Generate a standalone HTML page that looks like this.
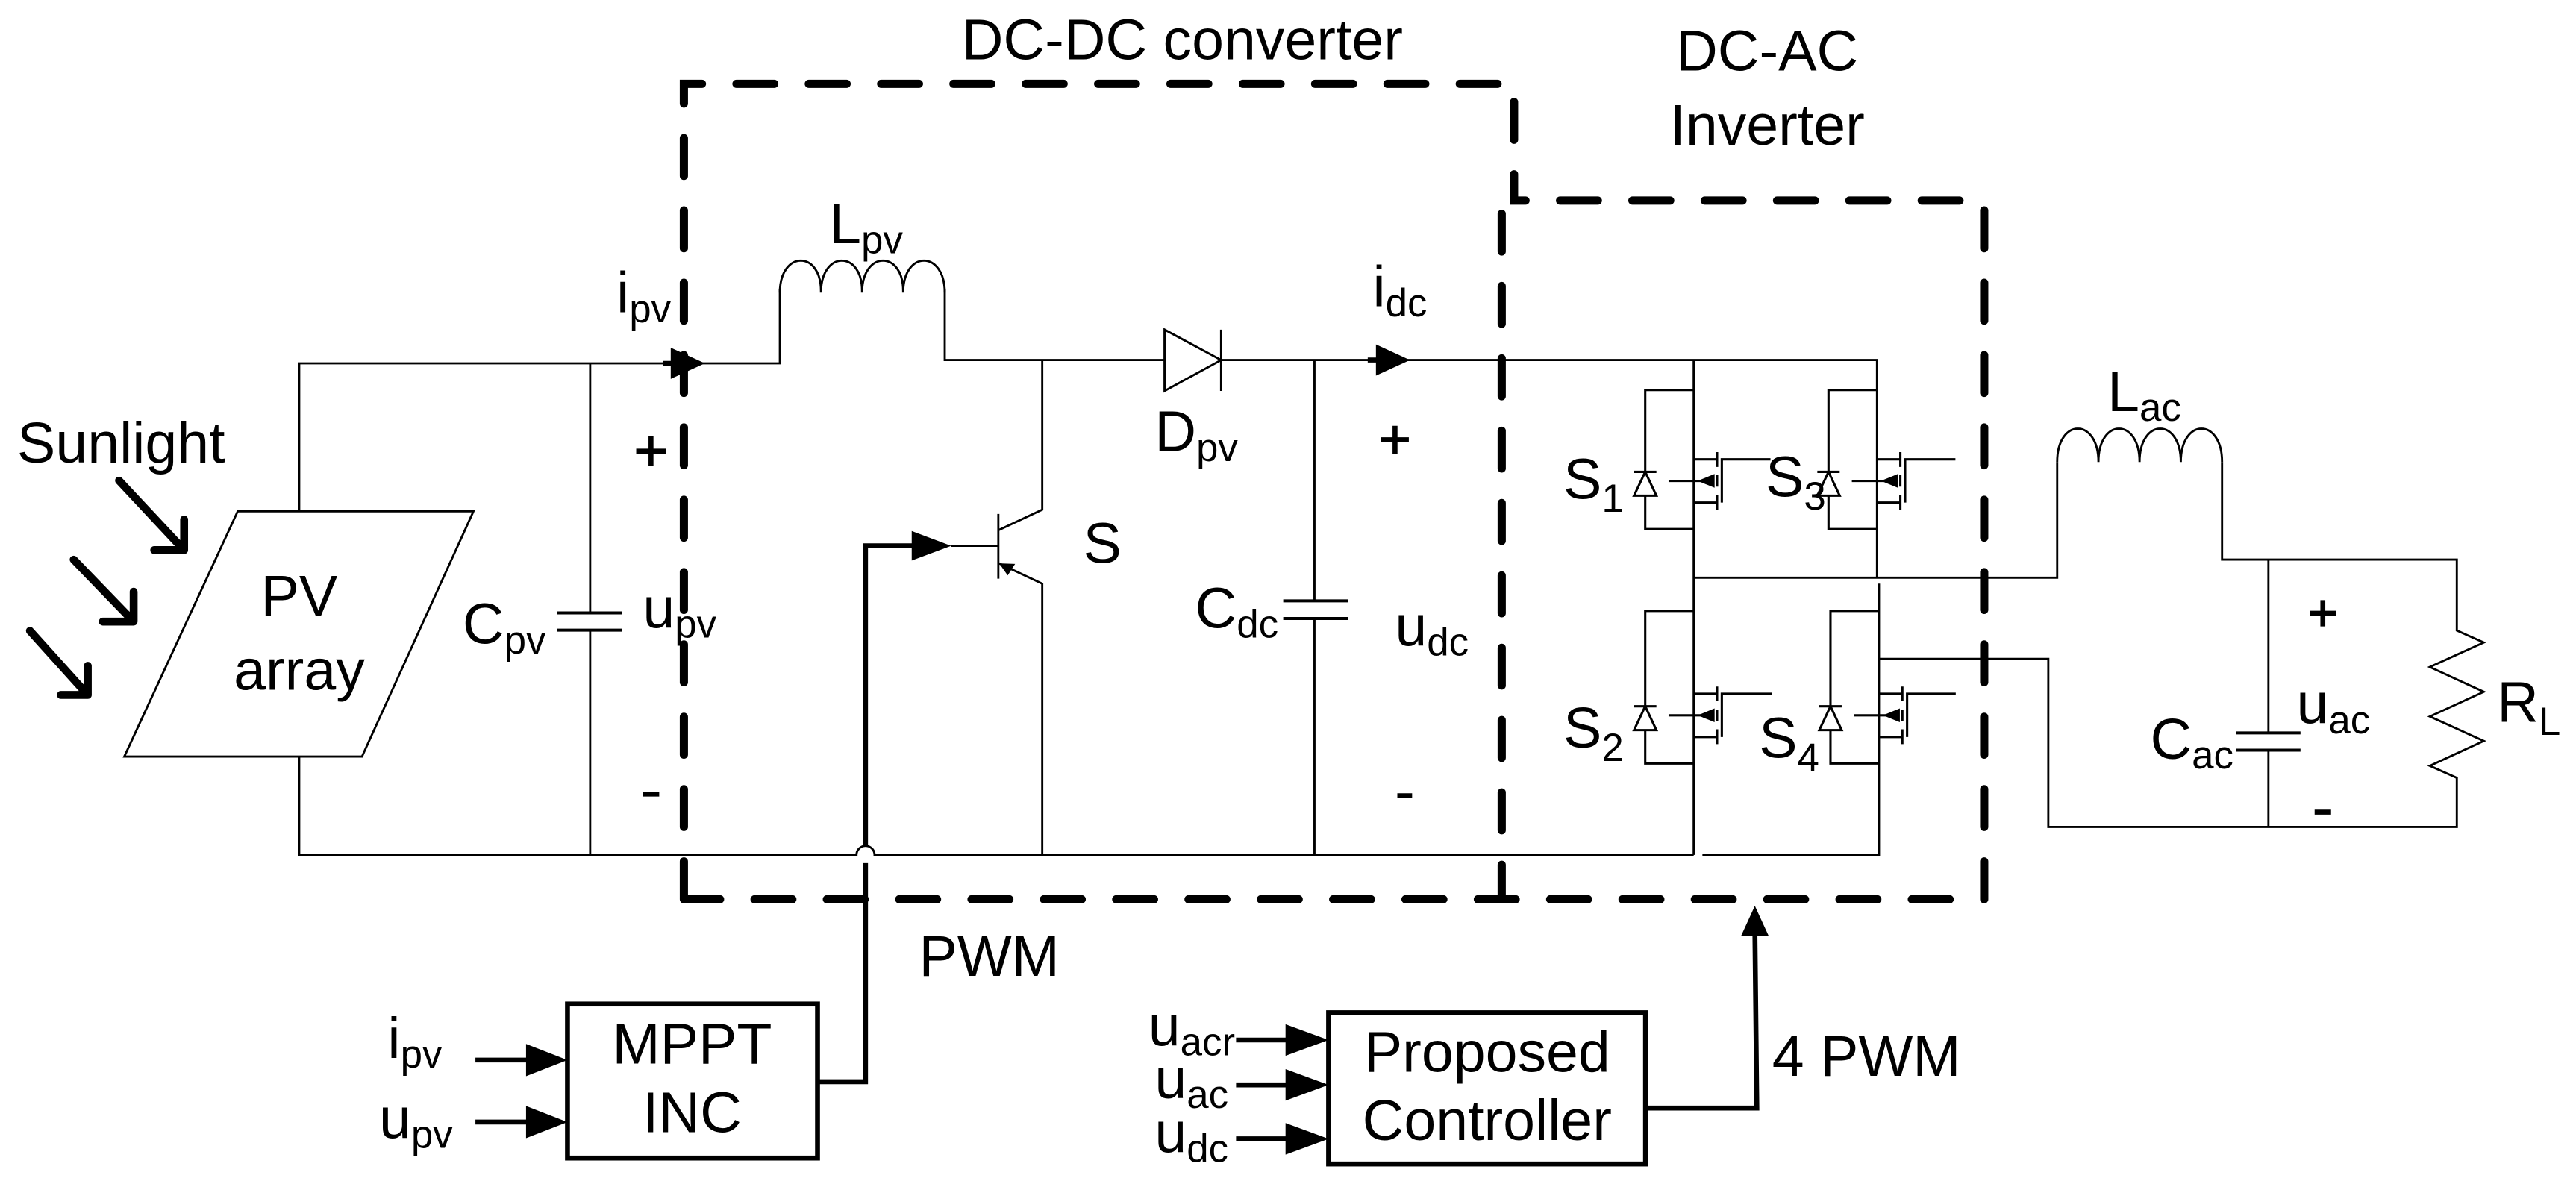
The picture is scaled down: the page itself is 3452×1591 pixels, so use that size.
<!DOCTYPE html>
<html><head><meta charset="utf-8"><style>
html,body{margin:0;padding:0;background:#fff;}
svg{display:block;}
text{font-family:"Liberation Sans",Arial,sans-serif;fill:#000;}
</style></head><body>
<svg xmlns="http://www.w3.org/2000/svg" width="3452" height="1591" viewBox="0 0 1567 722" preserveAspectRatio="none">
<rect width="1567" height="722" fill="#fff"/>

<g fill="none" stroke="#000" stroke-width="5" stroke-linecap="round" stroke-dasharray="23 21">
<path d="M416,547 V51 H921 V122 H1207 V547 H416"/>
<path d="M913.5,130 V547"/>
</g>

<g fill="none" stroke="#000" stroke-width="1.3">
<path d="M182,311 V221 H474.4 V176"/>
<path d="M574.7,176 V219 H708.4"/>
<path d="M742.8,219 H1141.8 V351.4"/>
<path d="M359,221 V372.8 M359,383.3 V520"/>
<path d="M182,460 V520 H521 A5.5,5.5 0 0 1 532,520 H1030.3"/>
<path d="M1035.6,520 H1143 V355"/>
<path d="M474.4,178 C474.4,152 500,152 499.4,178 C499.4,152 525,152 524.4,178 C524.4,152 550,152 549.4,178 C549.4,152 574.7,152 574.7,178"/>
<path d="M708.4,200.5 V237.8 L742.8,219 Z M742.8,200.5 V237.8"/>
<path d="M634,219 V310 L607.3,322.5 M607.3,312.6 V352 M578.6,332 H607.3 M607.3,342.5 L634,355 V520"/>
<path d="M799.6,219 V365.5 M799.6,376.2 V520"/>
<path d="M1030.3,219 V520"/>
<path d="M1030.3,351.4 H1251.4 V281"/>
<path d="M1143,400.8 H1246 V503 H1494.5 V473.1 L1478.1,465.8 L1510.9,450.7 L1478.1,435.8 L1510.9,420.8 L1478.1,405.7 L1510.9,390.8 L1494.5,383.5 V340.4 H1351.7 V281"/>
<path d="M1379.9,340.4 V445.8 M1379.9,456.3 V503"/>
<path d="M1251.4,281 C1251.4,254 1276.5,254 1276.5,281 C1276.5,254 1301.5,254 1301.5,281 C1301.5,254 1326.6,254 1326.6,281 C1326.6,254 1351.7,254 1351.7,281"/>
</g>
<g stroke="#000" stroke-width="1.8">
<path d="M339,372.8 H378.3 M339,383.3 H378.3"/>
<path d="M780.6,365.5 H820 M780.6,376.2 H820"/>
<path d="M1360.3,445.8 H1399.4 M1360.3,456.3 H1399.4"/>
</g>
<polygon points="607.8,342.7 617.5,343 613,350" fill="#000"/>

<g fill="none" stroke="#000" stroke-width="1.4">
<path d="M1030.3,279.4 H1044.5 M1044.5,275 V284 M1044.5,289 V296 M1044.5,301 V310 M1044.5,305.7 H1030.3"/>
<path d="M1047.4,305.7 V279.4 H1077"/>
<path d="M1015,292.5 H1040"/>
<polygon points="1032.7,292.5 1043,288.3 1043,296.7" fill="#000" stroke="none"/>
<path d="M1030.3,237.2 H1000.8 V321.8 H1030.3"/>
<polygon points="994,301.5 1007.6,301.5 1000.8,287" fill="#fff"/>
<path d="M994,287 H1007.6"/>
</g>
<g transform="translate(111.5,0)">
<g fill="none" stroke="#000" stroke-width="1.4">
<path d="M1030.3,279.4 H1044.5 M1044.5,275 V284 M1044.5,289 V296 M1044.5,301 V310 M1044.5,305.7 H1030.3"/>
<path d="M1047.4,305.7 V279.4 H1078"/>
<path d="M1015,292.5 H1040"/>
<polygon points="1032.7,292.5 1043,288.3 1043,296.7" fill="#000" stroke="none"/>
<path d="M1030.3,237.2 H1000.8 V321.8 H1030.3"/>
<polygon points="994,301.5 1007.6,301.5 1000.8,287" fill="#fff"/>
<path d="M994,287 H1007.6"/>
</g></g>
<g transform="translate(0,142.6)">
<g fill="none" stroke="#000" stroke-width="1.4">
<path d="M1030.3,279.4 H1044.5 M1044.5,275 V284 M1044.5,289 V296 M1044.5,301 V310 M1044.5,305.7 H1030.3"/>
<path d="M1047.4,305.7 V279.4 H1078"/>
<path d="M1015,292.5 H1040"/>
<polygon points="1032.7,292.5 1043,288.3 1043,296.7" fill="#000" stroke="none"/>
<path d="M1030.3,229 H1000.8 V321.8 H1030.3"/>
<polygon points="994,301.5 1007.6,301.5 1000.8,287" fill="#fff"/>
<path d="M994,287 H1007.6"/>
</g></g>
<g transform="translate(112.7,142.6)">
<g fill="none" stroke="#000" stroke-width="1.4">
<path d="M1030.3,279.4 H1044.5 M1044.5,275 V284 M1044.5,289 V296 M1044.5,301 V310 M1044.5,305.7 H1030.3"/>
<path d="M1047.4,305.7 V279.4 H1077"/>
<path d="M1015,292.5 H1040"/>
<polygon points="1032.7,292.5 1043,288.3 1043,296.7" fill="#000" stroke="none"/>
<path d="M1030.3,229 H1000.8 V321.8 H1030.3"/>
<polygon points="994,301.5 1007.6,301.5 1000.8,287" fill="#fff"/>
<path d="M994,287 H1007.6"/>
</g></g>

<polygon points="75.6,460.2 220.2,460.2 288,311 144.6,311" fill="#fff" stroke="#000" stroke-width="1.3"/>

<g fill="none" stroke="#000" stroke-width="4.8" stroke-linecap="round" stroke-linejoin="round">
<path d="M72.4,292.3 L112,334.6 M112,316 V334.6 H93.8"/>
<path d="M44.8,340.4 L81.3,378.1 M81.3,359.9 V378.1 H62.5"/>
<path d="M18.2,383.7 L53.4,422.7 M53.4,405 V422.7 H37"/>
</g>

<path d="M403.5,221 H412" stroke="#000" stroke-width="3"/>
<polygon points="428.8,221 408,211.5 408,230.5" fill="#000"/>
<path d="M832,219 H840" stroke="#000" stroke-width="3"/>
<polygon points="857.7,219 837,209.5 837,228.5" fill="#000"/>

<g fill="none" stroke="#000" stroke-width="3">
<rect x="345.2" y="610.7" width="152.1" height="93.7"/>
<path d="M497.3,658 H526.5 V525"/>
<path d="M526.5,515 V332 H560"/>
<path d="M289.2,644.8 H325 M289.2,682.5 H325"/>
<rect x="808.2" y="616" width="192.8" height="92"/>
<path d="M751.9,632.6 H790 M751.9,659.9 H790 M751.9,692.7 H790"/>
<path d="M1001,674 H1068.7 L1067.5,565"/>
</g>
<polygon points="578.6,332 554.6,323 554.6,341" fill="#000"/>
<polygon points="345.2,644.8 320,635 320,654.6" fill="#000"/>
<polygon points="345.2,682.5 320,672.7 320,692.3" fill="#000"/>
<polygon points="808.2,632.6 782,623 782,642.2" fill="#000"/>
<polygon points="808.2,659.9 782,650.3 782,669.5" fill="#000"/>
<polygon points="808.2,692.7 782,683.1 782,702.3" fill="#000"/>
<polygon points="1067.5,551 1059,569.5 1076,569.5" fill="#000"/>

<g font-size="35">
<text x="585" y="36">DC-DC converter</text>
<text x="1075" y="43" text-anchor="middle">DC-AC</text>
<text x="1075" y="88" text-anchor="middle">Inverter</text>
<text x="10.4" y="281.4">Sunlight</text>
<text x="182" y="374.5" text-anchor="middle">PV</text>
<text x="182" y="419.6" text-anchor="middle">array</text>
<text x="375" y="190">i<tspan font-size="24" dy="6">pv</tspan></text>
<text x="504.4" y="148">L<tspan font-size="24" dy="6">pv</tspan></text>
<text x="702.4" y="274.4">D<tspan font-size="24" dy="6">pv</tspan></text>
<text x="658.9" y="342.3">S</text>
<text x="835" y="186.4">i<tspan font-size="24" dy="6">dc</tspan></text>
<text x="281.4" y="391.5">C<tspan font-size="24" dy="6">pv</tspan></text>
<text x="391" y="381.8">u<tspan font-size="24" dy="6">pv</tspan></text>
<text x="727" y="381.8">C<tspan font-size="24" dy="6">dc</tspan></text>
<text x="848.6" y="392.7">u<tspan font-size="24" dy="6">dc</tspan></text>
<text x="951" y="303.4">S<tspan font-size="24" dy="8">1</tspan></text>
<text x="1074" y="302">S<tspan font-size="24" dy="8">3</tspan></text>
<text x="951" y="454.8">S<tspan font-size="24" dy="8">2</tspan></text>
<text x="1070" y="460.9">S<tspan font-size="24" dy="8">4</tspan></text>
<text x="1282" y="250">L<tspan font-size="24" dy="6">ac</tspan></text>
<text x="1308" y="461.5">C<tspan font-size="24" dy="6">ac</tspan></text>
<text x="1397" y="440">u<tspan font-size="24" dy="6">ac</tspan></text>
<text x="1519" y="439">R<tspan font-size="24" dy="8">L</tspan></text>
<text x="559" y="593.6">PWM</text>
<text x="1078" y="654.5">4 PWM</text>
<text x="421" y="647" text-anchor="middle">MPPT</text>
<text x="421" y="688.6" text-anchor="middle">INC</text>
<text x="904.6" y="652" text-anchor="middle">Proposed</text>
<text x="904.6" y="693.5" text-anchor="middle">Controller</text>
<text x="235.8" y="643.5">i<tspan font-size="24" dy="6">pv</tspan></text>
<text x="230.6" y="692.2">u<tspan font-size="24" dy="6">pv</tspan></text>
<text x="698.5" y="636">u<tspan font-size="24" dy="6">acr</tspan></text>
<text x="702.4" y="668">u<tspan font-size="24" dy="6">ac</tspan></text>
<text x="702.4" y="700.8">u<tspan font-size="24" dy="6">dc</tspan></text>
</g>
<g stroke="#000" stroke-width="3">
<path d="M387,274.4 H405 M396,265.4 V283.4"/>
<path d="M391,483 H401"/>
<path d="M840,267.5 H857 M848.6,259 V276"/>
<path d="M850,484 H859"/>
<path d="M1405,373 H1421 M1413,365 V381"/>
<path d="M1408,494 H1418"/>
</g>
</svg>
</body></html>
